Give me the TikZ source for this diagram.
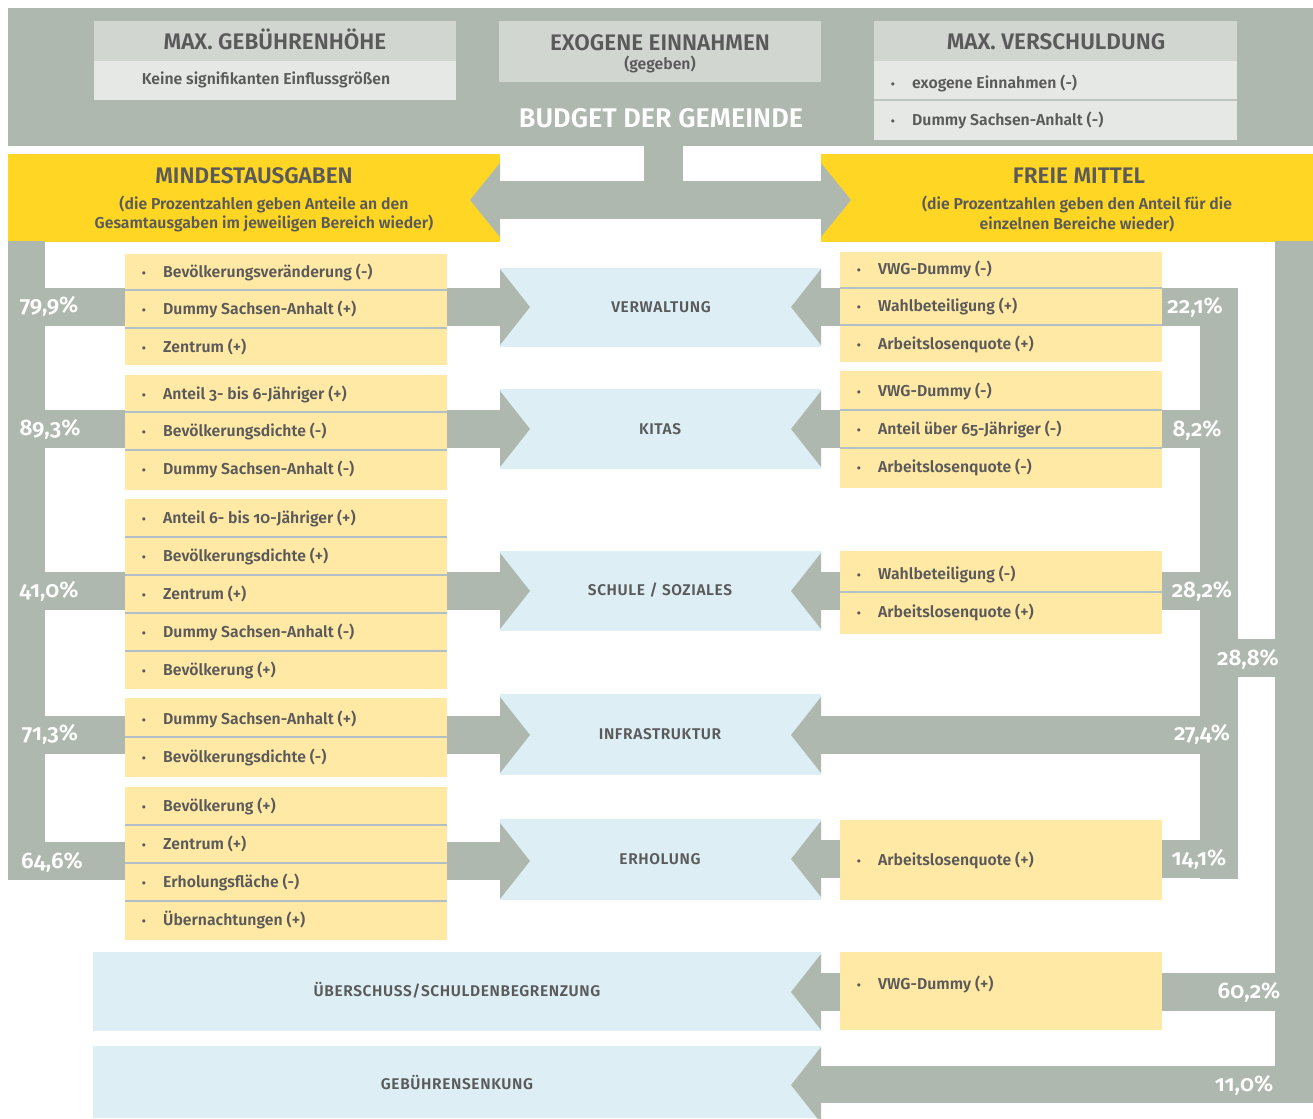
\documentclass[tikz,border=0pt]{standalone}
\usepackage{fontspec}
\setmainfont{Fira Sans}[Numbers=OldStyle,BoldFont={Fira Sans SemiBold}]
\newfontfamily\capsf{Fira Sans}[Numbers=OldStyle,LetterSpace=4,BoldFont={Fira Sans SemiBold}]
\definecolor{band}{HTML}{AFB8AF}
\definecolor{yel}{HTML}{FED623}
\definecolor{ylight}{HTML}{FFE9A5}
\definecolor{blu}{HTML}{DDEEF5}
\definecolor{hdrc}{HTML}{D1D6D1}
\definecolor{bodyc}{HTML}{E6E8E5}
\definecolor{tx}{HTML}{5A5A5A}
\definecolor{sepc}{HTML}{B3BFC6}
\newcommand\itemL[3]{\node[bul] (#1b) at (144,#2+5.5) {•}; \node[itm] (#1) at (163,#2) {#3};}
\newcommand\itemR[3]{\node[bul] (#1b) at (859,#2+5.5) {•}; \node[itm] (#1) at (878,#2) {#3};}
\begin{document}
\begin{tikzpicture}[x=1pt,y=-1pt,
  itm/.style={anchor=west,inner sep=0,text height=11pt,text depth=0pt,font=\fontsize{15.8}{15.8}\selectfont\bfseries,text=tx},
  bul/.style={anchor=base,inner sep=0,font=\fontsize{12}{12}\selectfont\bfseries,text=tx},
  pct/.style={inner sep=0,text height=15.5pt,text depth=0pt,font=\fontsize{22.5}{22.5}\selectfont\bfseries,text=white},
  lbl/.style={inner sep=0,text height=10.7pt,text depth=0pt,font=\capsf\fontsize{15.5}{15.5}\selectfont\bfseries,text=tx},
  hdr/.style={inner sep=0,text height=15.5pt,text depth=0pt,font=\fontsize{22.5}{22.5}\selectfont\bfseries,text=tx},
  sub/.style={inner sep=0,font=\fontsize{15.8}{19.5}\selectfont\bfseries,text=tx,align=center},
  sepl/.style={draw=sepc,line width=1.5pt},
  bandf/.style={fill=band},
  ybox/.style={fill=ylight},
  bbox/.style={fill=blu}
]
\useasboundingbox (0,0) rectangle (1313,1118);
\clip (0,0) rectangle (1313,1118);

% ---------- top band ----------
\fill[bandf] (8,8) rectangle (1313,146);
\fill[bandf] (644,146) rectangle (683,181);
\fill[bandf] (470,181) rectangle (851,219);
\fill[yel] (8,154) rectangle (500,242);
\fill[yel] (821,154) rectangle (1313,242);
\fill[bandf] (500,163) -- (470,200) -- (500,237) -- cycle;
\fill[bandf] (821,163) -- (851,200) -- (821,237) -- cycle;

\fill[hdrc] (94,21) rectangle (456,61);
\fill[bodyc] (94,61) rectangle (456,100);
\fill[hdrc] (499,21) rectangle (821,82);
\fill[hdrc] (874,21) rectangle (1237,61);
\fill[bodyc] (874,61) rectangle (1237,140);
\draw[draw=band!80,line width=1.5pt] (874,100) -- (1237,100);

\node[hdr] (gebh) at (275,42) {MAX. GEBÜHRENHÖHE};
\node[sub] (gebhs) at (266,80) {Keine signifikanten Einflussgrößen};
\node[hdr] (exo) at (660,43) {EXOGENE EINNAHMEN};
\node[sub] (exos) at (660,64) {(gegeben)};
\node[hdr] (versch) at (1056,42) {MAX. VERSCHULDUNG};
\node[bul] (v1b) at (893,88.5) {•};
\node[itm] (v1) at (912,83) {exogene Einnahmen (-)};
\node[bul] (v2b) at (893,125.5) {•};
\node[itm] (v2) at (912,120) {Dummy Sachsen-Anhalt (-)};
\node[inner sep=0,text height=18.5pt,text depth=0pt,font=\fontsize{27}{27}\selectfont\bfseries,text=white] (budget) at (661,118) {BUDGET DER GEMEINDE};

\node[hdr] (mind) at (254,176) {MINDESTAUSGABEN};
\node[sub] (minds) at (264,214) {(die Prozentzahlen geben Anteile an den\\Gesamtausgaben im jeweiligen Bereich wieder)};
\node[hdr] (frei) at (1079,176) {FREIE MITTEL};
\node[sub] (freis) at (1077,214) {(die Prozentzahlen geben den Anteil für die\\einzelnen Bereiche wieder)};

% ---------- gray flows ----------
\fill[bandf] (8,241) rectangle (45,880);
\fill[bandf] (8,288) rectangle (500,326);
\fill[bandf] (8,410) rectangle (500,448);
\fill[bandf] (8,572) rectangle (500,610);
\fill[bandf] (8,716) rectangle (500,754);
\fill[bandf] (8,842) rectangle (500,880);

\fill[bandf] (1200,288) rectangle (1238,879);
\fill[bandf] (1275,241) rectangle (1313,1103);
\fill[bandf] (1200,639) rectangle (1313,677);
\fill[bandf] (821,288) rectangle (1238,326);
\fill[bandf] (821,410) rectangle (1238,448);
\fill[bandf] (821,572) rectangle (1238,610);
\fill[bandf] (821,716) rectangle (1238,754);
\fill[bandf] (821,840) rectangle (1238,878);
\fill[bandf] (821,973) rectangle (1313,1011);
\fill[bandf] (821,1066) rectangle (1313,1103);

% ---------- left yellow boxes ----------
\fill[ybox] (125,254) rectangle (447,365);
\draw[sepl] (125,290) -- (447,290); \draw[sepl] (125,328) -- (447,328);
\itemL{a1}{272}{Bevölkerungsveränderung (-)}
\itemL{a2}{309}{Dummy Sachsen-Anhalt (+)}
\itemL{a3}{347}{Zentrum (+)}

\fill[ybox] (125,375) rectangle (447,490);
\draw[sepl] (125,412) -- (447,412); \draw[sepl] (125,450) -- (447,450);
\itemL{b1}{394}{Anteil 3- bis 6-Jähriger (+)}
\itemL{b2}{431}{Bevölkerungsdichte (-)}
\itemL{b3}{469}{Dummy Sachsen-Anhalt (-)}

\fill[ybox] (125,499) rectangle (447,689);
\draw[sepl] (125,537) -- (447,537); \draw[sepl] (125,575) -- (447,575);
\draw[sepl] (125,613) -- (447,613); \draw[sepl] (125,651) -- (447,651);
\itemL{c1}{518}{Anteil 6- bis 10-Jähriger (+)}
\itemL{c2}{556}{Bevölkerungsdichte (+)}
\itemL{c3}{594}{Zentrum (+)}
\itemL{c4}{632}{Dummy Sachsen-Anhalt (-)}
\itemL{c5}{670}{Bevölkerung (+)}

\fill[ybox] (125,698) rectangle (447,777);
\draw[sepl] (125,737) -- (447,737);
\itemL{d1}{719}{Dummy Sachsen-Anhalt (+)}
\itemL{d2}{757}{Bevölkerungsdichte (-)}

\fill[ybox] (125,787) rectangle (447,940);
\draw[sepl] (125,825) -- (447,825); \draw[sepl] (125,863) -- (447,863);
\draw[sepl] (125,901) -- (447,901);
\itemL{e1}{806}{Bevölkerung (+)}
\itemL{e2}{844}{Zentrum (+)}
\itemL{e3}{882}{Erholungsfläche (-)}
\itemL{e4}{920}{Übernachtungen (+)}

% ---------- right yellow boxes ----------
\fill[ybox] (840,252) rectangle (1162,362);
\draw[sepl] (840,288) -- (1162,288); \draw[sepl] (840,325) -- (1162,325);
\itemR{f1}{269}{VWG-Dummy (-)}
\itemR{f2}{306}{Wahlbeteiligung (+)}
\itemR{f3}{344}{Arbeitslosenquote (+)}

\fill[ybox] (840,371) rectangle (1162,488);
\draw[sepl] (840,410) -- (1162,410); \draw[sepl] (840,448) -- (1162,448);
\itemR{g1}{391}{VWG-Dummy (-)}
\itemR{g2}{429}{Anteil über 65-Jähriger (-)}
\itemR{g3}{467}{Arbeitslosenquote (-)}

\fill[ybox] (840,551) rectangle (1162,634);
\draw[sepl] (840,592) -- (1162,592);
\itemR{h1}{574}{Wahlbeteiligung (-)}
\itemR{h2}{612}{Arbeitslosenquote (+)}

\fill[ybox] (840,820) rectangle (1162,900);
\itemR{i1}{860}{Arbeitslosenquote (+)}

\fill[ybox] (840,952) rectangle (1162,1030);
\itemR{j1}{984}{VWG-Dummy (+)}

% ---------- blue target boxes ----------
\fill[bbox] (500,268) rectangle (821,347);
\fill[bbox] (500,389) rectangle (821,469);
\fill[bbox] (500,551) rectangle (821,631);
\fill[bbox] (500,694) rectangle (821,775);
\fill[bbox] (500,819) rectangle (821,900);
\fill[bbox] (93,952) rectangle (821,1031);
\fill[bbox] (93,1046) rectangle (821,1118);

% arrow heads
\foreach \c in {307,429,591,735,861}{
  \fill[bandf] (500,\c-38) -- (530,\c) -- (500,\c+38) -- cycle;}
\foreach \c in {307,429,591,735,859,992,1085}{
  \fill[bandf] (821,\c-38) -- (791,\c) -- (821,\c+38) -- cycle;}

\node[lbl] (verw) at (661,307) {VERWALTUNG};
\node[lbl] (kita) at (660,429) {KITAS};
\node[lbl] (schule) at (660,590) {SCHULE / SOZIALES};
\node[lbl] (infra) at (660,734) {INFRASTRUKTUR};
\node[lbl] (erh) at (660,859) {ERHOLUNG};
\node[lbl] (ueber) at (457,991) {ÜBERSCHUSS/SCHULDENBEGRENZUNG};
\node[lbl] (gebs) at (457,1084) {GEBÜHRENSENKUNG};

% ---------- percentages ----------
\node[pct] (p1) at (49,305) {79,9\%};
\node[pct] (p2) at (50,428) {89,3\%};
\node[pct] (p3) at (49,590) {41,0\%};
\node[pct] (p4) at (50,733) {71,3\%};
\node[pct] (p5) at (52,861) {64,6\%};
\node[pct] (q1) at (1195,306) {22,1\%};
\node[pct] (q2) at (1197,429) {8,2\%};
\node[pct] (q3) at (1202,590) {28,2\%};
\node[pct] (q4) at (1248,658) {28,8\%};
\node[pct] (q5) at (1202,733) {27,4\%};
\node[pct] (q6) at (1199,858) {14,1\%};
\node[pct] (q7) at (1249,991) {60,2\%};
\node[pct] (q8) at (1244,1084) {11,0\%};
\end{tikzpicture}
\end{document}
